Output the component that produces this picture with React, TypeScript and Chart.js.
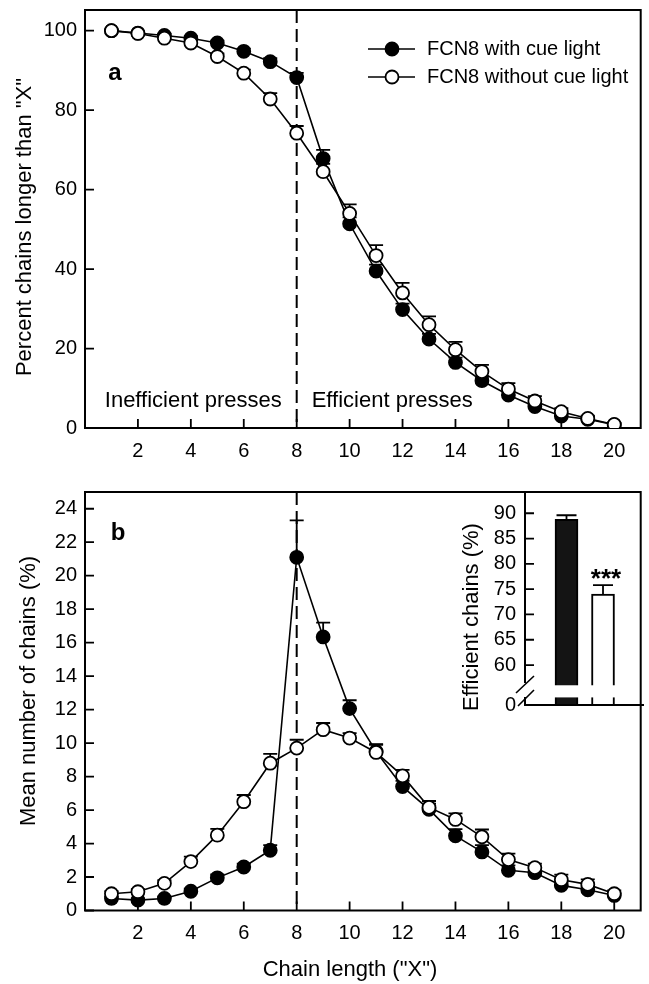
import React, { useEffect, useRef } from "react";
import { Chart, registerables } from "chart.js";

Chart.register(...registerables);

const FONT = "'Liberation Sans', Arial, Helvetica, sans-serif";

// ---------- data ----------
const chainLength = [1, 2, 3, 4, 5, 6, 7, 8, 9, 10, 11, 12, 13, 14, 15, 16, 17, 18, 19, 20];
const xTickValues = [2, 4, 6, 8, 10, 12, 14, 16, 18, 20];
const percentTicks = [0, 20, 40, 60, 80, 100];
const meanTicks = [0, 2, 4, 6, 8, 10, 12, 14, 16, 18, 20, 22, 24];
const insetTicks = [60, 65, 70, 75, 80, 85, 90];
const seriesLabels = ["FCN8 with cue light", "FCN8 without cue light"];
const dividerX = 8;

// panel a: percent of chains longer than X
const cumWithCue = [100, 99.4, 98.8, 98.1, 96.9, 94.8, 92.2, 88.2, 67.8, 51.4, 39.5, 29.8, 22.4, 16.5, 11.9, 8.3, 5.4, 3.0, 2.2, 0.8];
const cumWithCueErr = [0.2, 0.3, 0.4, 0.5, 0.6, 0.7, 0.9, 1.2, 2.2, 1.6, 1.6, 1.5, 1.3, 1.2, 1.0, 0.9, 0.7, 0.6, 0.4, 0.3];
const cumWithoutCue = [100, 99.3, 98.1, 96.9, 93.5, 89.3, 82.8, 74.2, 64.5, 54.0, 43.4, 34.0, 26.0, 19.7, 14.2, 9.8, 6.8, 4.1, 2.4, 0.9];
const cumWithoutCueErr = [0.2, 0.3, 0.5, 0.6, 0.8, 0.9, 1.5, 1.8, 2.0, 2.3, 2.6, 2.5, 2.1, 2.0, 1.7, 1.5, 1.2, 0.9, 0.7, 0.4];

// panel b: mean number of chains (%)
const distWithCue = [0.72, 0.62, 0.72, 1.15, 1.95, 2.6, 3.6, 21.1, 16.34, 12.06, 9.5, 7.4, 6.04, 4.46, 3.5, 2.4, 2.26, 1.5, 1.24, 0.9];
const distWithCueErr = [0.1, 0.1, 0.1, 0.15, 0.2, 0.2, 0.3, 2.2, 0.86, 0.5, 0.4, 0.35, 0.35, 0.4, 0.4, 0.3, 0.25, 0.2, 0.2, 0.15];
const distWithoutCue = [1.0, 1.12, 1.62, 2.92, 4.5, 6.5, 8.8, 9.7, 10.8, 10.3, 9.44, 8.04, 6.16, 5.44, 4.4, 3.04, 2.56, 1.84, 1.56, 1.0];
const distWithoutCueErr = [0.15, 0.15, 0.2, 0.3, 0.38, 0.4, 0.56, 0.5, 0.4, 0.3, 0.5, 0.36, 0.38, 0.36, 0.44, 0.36, 0.24, 0.3, 0.3, 0.2];

// inset: efficient chains (%)
const efficientMean = [88.8, 74.0];
const efficientErr = [0.8, 1.8];
const insetMin = 52.1;
const insetMax = 94.2;
const insetBreak = [53.6, 56.0];

// ---------- helpers ----------
const axisFont = { family: FONT, size: 20 };
const pts = (xs: number[], ys: number[]) => xs.map((x, i) => ({ x, y: ys[i] }));

function drawTextRot(ctx: CanvasRenderingContext2D, text: string, x: number, y: number, font: string) {
  ctx.save();
  ctx.translate(x, y);
  ctx.rotate(-Math.PI / 2);
  ctx.font = font;
  ctx.fillStyle = "#000";
  ctx.textAlign = "center";
  ctx.textBaseline = "middle";
  ctx.fillText(text, 0, 0);
  ctx.restore();
}

function makePanelPlugin(id: string, errs: number[][], yTicks: number[], extra: (chart: any) => void) {
  return {
    id,
    beforeDatasetsDraw(chart: any) {
      const { ctx, chartArea: a } = chart;
      const xs = chart.scales.x;
      const ys = chart.scales.y;
      ctx.save();
      ctx.strokeStyle = "#000";
      // box
      ctx.lineWidth = 2;
      ctx.strokeRect(a.left, a.top, a.right - a.left, a.bottom - a.top);
      // inward ticks
      ctx.lineWidth = 1.8;
      ctx.beginPath();
      xTickValues.forEach((v) => {
        const px = xs.getPixelForValue(v);
        ctx.moveTo(px, a.bottom);
        ctx.lineTo(px, a.bottom - 9);
      });
      yTicks.forEach((v) => {
        const py = ys.getPixelForValue(v);
        ctx.moveTo(a.left, py);
        ctx.lineTo(a.left + 9, py);
      });
      ctx.stroke();
      // dashed divider
      ctx.lineWidth = 2;
      ctx.setLineDash([13, 6]);
      const dx = xs.getPixelForValue(dividerX);
      ctx.beginPath();
      ctx.moveTo(dx, a.top);
      ctx.lineTo(dx, a.bottom);
      ctx.stroke();
      ctx.setLineDash([]);
      // error bars (upper)
      ctx.lineWidth = 1.8;
      chart.data.datasets.forEach((ds: any, di: number) => {
        const e = errs[di];
        ds.data.forEach((p: any, i: number) => {
          const px = xs.getPixelForValue(p.x);
          const y0 = ys.getPixelForValue(p.y);
          const y1 = ys.getPixelForValue(p.y + e[i]);
          ctx.beginPath();
          ctx.moveTo(px, y0);
          ctx.lineTo(px, y1);
          ctx.moveTo(px - 7, y1);
          ctx.lineTo(px + 7, y1);
          ctx.stroke();
        });
      });
      ctx.restore();
    },
    afterDraw(chart: any) {
      chart.ctx.save();
      extra(chart);
      chart.ctx.restore();
    },
  };
}

function lineDatasets(filled: number[], open: number[]) {
  const common = {
    borderColor: "#000",
    borderWidth: 1.6,
    pointRadius: 6.5,
    pointBorderWidth: 1.8,
    pointBorderColor: "#000",
    fill: false,
    tension: 0,
  };
  return [
    { ...common, label: seriesLabels[1], data: pts(chainLength, open), pointBackgroundColor: "#fff", backgroundColor: "#fff", order: 0 },
    { ...common, label: seriesLabels[0], data: pts(chainLength, filled), pointBackgroundColor: "#000", backgroundColor: "#000", order: 1 },
  ];
}

function lineOptions(yMax: number, yTicks: number[], xAxisHeight: number, padTop: number) {
  return {
    animation: false,
    responsive: false,
    maintainAspectRatio: false,
    events: [],
    layout: { padding: { top: padTop, right: 6.5, left: 0, bottom: 0 } },
    plugins: { legend: { display: false }, tooltip: { enabled: false }, title: { display: false } },
    scales: {
      x: {
        type: "linear",
        min: 0,
        max: 21,
        offset: false,
        grid: { display: false, drawTicks: false },
        border: { display: false },
        ticks: { color: "#000", font: axisFont, padding: 11, autoSkip: false, maxRotation: 0, minRotation: 0 },
        afterBuildTicks: (s: any) => {
          s.ticks = xTickValues.map((v) => ({ value: v }));
        },
        afterFit: (s: any) => {
          s.height = xAxisHeight;
          s.paddingLeft = 0;
          s.paddingRight = 0;
        },
      },
      y: {
        type: "linear",
        min: 0,
        max: yMax,
        grid: { display: false, drawTicks: false },
        border: { display: false },
        ticks: { color: "#000", font: axisFont, padding: 8, autoSkip: false },
        afterBuildTicks: (s: any) => {
          s.ticks = yTicks.map((v) => ({ value: v }));
        },
        afterFit: (s: any) => {
          s.width = 85;
          s.paddingTop = 0;
          s.paddingBottom = 0;
        },
      },
    },
  };
}

function configA(): any {
  const plugin = makePanelPlugin("panelA", [cumWithoutCueErr, cumWithCueErr], percentTicks, (chart) => {
    const ctx: CanvasRenderingContext2D = chart.ctx;
    const xs = chart.scales.x;
    const ys = chart.scales.y;
    drawTextRot(ctx, 'Percent chains longer than "X"', 25, 227, `22px ${FONT}`);
    ctx.fillStyle = "#000";
    ctx.font = `bold 24px ${FONT}`;
    ctx.textAlign = "center";
    ctx.textBaseline = "middle";
    ctx.fillText("a", 115, 73);
    // region labels
    const dx = xs.getPixelForValue(dividerX);
    const ty = ys.getPixelForValue(6.8);
    ctx.font = `22px ${FONT}`;
    ctx.textAlign = "right";
    ctx.fillText("Inefficient presses", dx - 15, ty);
    ctx.textAlign = "left";
    ctx.fillText("Efficient presses", dx + 15, ty);
    // legend
    const rows = [
      { label: seriesLabels[0], fill: "#000", y: 49 },
      { label: seriesLabels[1], fill: "#fff", y: 77 },
    ];
    rows.forEach((r) => {
      ctx.strokeStyle = "#000";
      ctx.lineWidth = 1.6;
      ctx.beginPath();
      ctx.moveTo(368, r.y);
      ctx.lineTo(415, r.y);
      ctx.stroke();
      ctx.beginPath();
      ctx.arc(392, r.y, 6.5, 0, Math.PI * 2);
      ctx.fillStyle = r.fill;
      ctx.fill();
      ctx.lineWidth = 1.8;
      ctx.stroke();
      ctx.fillStyle = "#000";
      ctx.font = `20px ${FONT}`;
      ctx.textAlign = "left";
      ctx.textBaseline = "middle";
      ctx.fillText(r.label, 427, r.y);
    });
  });
  return {
    type: "line",
    data: { datasets: lineDatasets(cumWithCue, cumWithoutCue) },
    options: lineOptions(105.2, percentTicks, 475 - 428, 10),
    plugins: [plugin],
  };
}

function configB(): any {
  const plugin = makePanelPlugin("panelB", [distWithoutCueErr, distWithCueErr], meanTicks, (chart) => {
    const ctx: CanvasRenderingContext2D = chart.ctx;
    drawTextRot(ctx, "Mean number of chains (%)", 29, 691 - 475, `22px ${FONT}`);
    ctx.fillStyle = "#000";
    ctx.font = `22px ${FONT}`;
    ctx.textAlign = "center";
    ctx.textBaseline = "middle";
    ctx.fillText('Chain length ("X")', 350, 970 - 475);
    ctx.font = `bold 24px ${FONT}`;
    ctx.fillText("b", 118, 533 - 475);
  });
  return {
    type: "line",
    data: { datasets: lineDatasets(distWithCue, distWithoutCue) },
    options: lineOptions(25, meanTicks, 509 - (910.5 - 475), 492 - 475),
    plugins: [plugin],
  };
}

function configInset(): any {
  const plugin = {
    id: "inset",
    afterDatasetsDraw(chart: any) {
      const { ctx, chartArea: a } = chart;
      const xs = chart.scales.x;
      const ys = chart.scales.y;
      ctx.save();
      ctx.strokeStyle = "#000";
      ctx.lineWidth = 1.8;
      // error bars
      efficientMean.forEach((m, i) => {
        const px = xs.getPixelForValue(i + 1);
        const y0 = ys.getPixelForValue(m);
        const y1 = ys.getPixelForValue(m + efficientErr[i]);
        ctx.beginPath();
        ctx.moveTo(px, y0);
        ctx.lineTo(px, y1);
        ctx.moveTo(px - 10, y1);
        ctx.lineTo(px + 10, y1);
        ctx.stroke();
      });
      // break gap in bars
      const gTop = ys.getPixelForValue(insetBreak[1]);
      const gBot = ys.getPixelForValue(insetBreak[0]);
      ctx.fillStyle = "#fff";
      efficientMean.forEach((_, i) => {
        const px = xs.getPixelForValue(i + 1);
        ctx.fillRect(px - 14, gTop, 28, gBot - gTop);
      });
      // axes with break
      ctx.lineWidth = 2;
      ctx.beginPath();
      ctx.moveTo(a.left, a.top);
      ctx.lineTo(a.left, a.bottom - 22);
      ctx.moveTo(a.left, a.bottom - 8);
      ctx.lineTo(a.left, a.bottom);
      ctx.lineTo(a.right, a.bottom);
      ctx.stroke();
      ctx.lineWidth = 1.6;
      ctx.beginPath();
      ctx.moveTo(a.left - 9, a.bottom - 12);
      ctx.lineTo(a.left + 9, a.bottom - 29);
      ctx.moveTo(a.left - 7, a.bottom + 1);
      ctx.lineTo(a.left + 9, a.bottom - 15);
      ctx.stroke();
      // inward ticks
      ctx.lineWidth = 1.8;
      ctx.beginPath();
      insetTicks.forEach((v) => {
        const py = ys.getPixelForValue(v);
        ctx.moveTo(a.left, py);
        ctx.lineTo(a.left + 9, py);
      });
      ctx.stroke();
      // significance
      const sx = xs.getPixelForValue(2);
      const sy = ys.getPixelForValue(efficientMean[1] + efficientErr[1]);
      ctx.fillStyle = "#000";
      ctx.font = `bold 26px ${FONT}`;
      ctx.textAlign = "center";
      ctx.textBaseline = "alphabetic";
      ctx.fillText("***", sx + 3, sy + 2);
      ctx.restore();
      drawTextRot(ctx, "Efficient chains (%)", 32, 617 - 480, `22px ${FONT}`);
    },
  };
  return {
    type: "bar",
    data: {
      labels: seriesLabels,
      datasets: [
        {
          data: efficientMean.map((v, i) => ({ x: i + 1, y: v })),
          backgroundColor: ["#141414", "#ffffff"],
          borderColor: "#000",
          borderWidth: 2,
          borderSkipped: "start",
          barThickness: 23,
          base: insetMin,
        },
      ],
    },
    options: {
      animation: false,
      responsive: false,
      maintainAspectRatio: false,
      events: [],
      layout: { padding: { top: 12, right: 5, bottom: 15, left: 0 } },
      plugins: { legend: { display: false }, tooltip: { enabled: false } },
      scales: {
        x: { type: "linear", min: -0.137, max: 3.123, offset: false, display: false },
        y: {
          type: "linear",
          min: insetMin,
          max: insetMax,
          grid: { display: false, drawTicks: false },
          border: { display: false },
          ticks: {
            color: "#000",
            font: axisFont,
            padding: 9,
            autoSkip: false,
            callback: (v: number) => (v === insetMin ? "0" : String(v)),
          },
          afterBuildTicks: (s: any) => {
            s.ticks = [insetMin, ...insetTicks].map((v) => ({ value: v }));
          },
          afterFit: (s: any) => {
            s.width = 85;
            s.paddingTop = 0;
            s.paddingBottom = 0;
          },
        },
      },
    },
    plugins: [plugin],
  };
}

export default function App() {
  const aRef = useRef<HTMLCanvasElement>(null);
  const bRef = useRef<HTMLCanvasElement>(null);
  const iRef = useRef<HTMLCanvasElement>(null);

  useEffect(() => {
    const charts = [
      new Chart(aRef.current as HTMLCanvasElement, configA()),
      new Chart(bRef.current as HTMLCanvasElement, configB()),
      new Chart(iRef.current as HTMLCanvasElement, configInset()),
    ];
    return () => charts.forEach((c) => c.destroy());
  }, []);

  return (
    <div style={{ position: "absolute", left: 0, top: 0, width: 649, height: 984, background: "#fff" }}>
      <canvas ref={aRef} width={649} height={475} style={{ position: "absolute", left: 0, top: 0, width: 649, height: 475 }} />
      <canvas ref={bRef} width={649} height={509} style={{ position: "absolute", left: 0, top: 475, width: 649, height: 509 }} />
      <canvas ref={iRef} width={209} height={240} style={{ position: "absolute", left: 440, top: 480, width: 209, height: 240 }} />
    </div>
  );
}
